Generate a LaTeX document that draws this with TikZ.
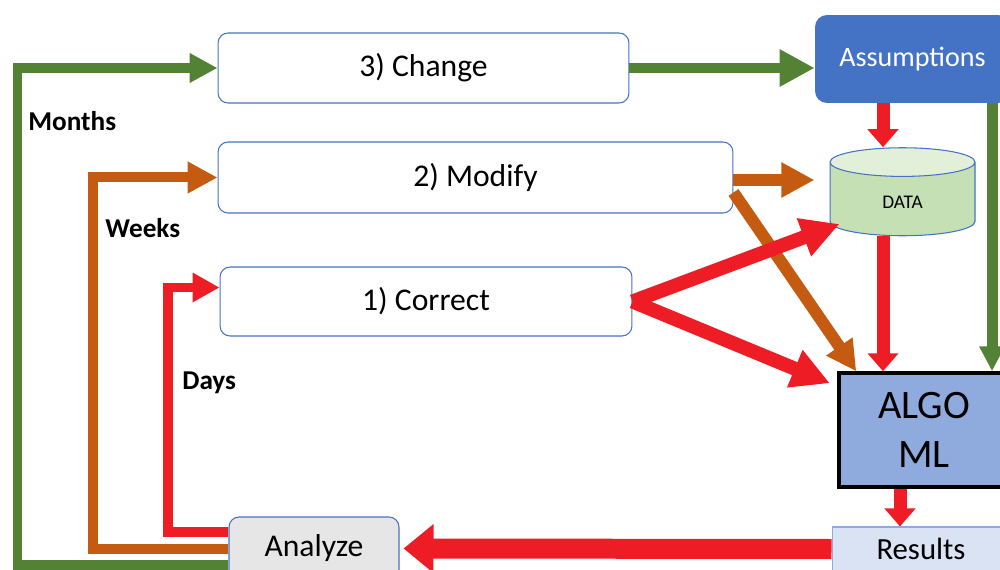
\documentclass[tikz,border=0pt]{standalone}
\usepackage{fontspec}
\setmainfont{Carlito}
\usepackage{tikz}
\usetikzlibrary{positioning}
\usetikzlibrary{arrows.meta, shapes.geometric}

\definecolor{verde}{HTML}{548235}
\definecolor{naranja}{HTML}{C55A11}
\definecolor{rojo}{HTML}{EE1C25}
\definecolor{borde}{HTML}{4472C4}
\definecolor{azul}{HTML}{4472C4}
\definecolor{azulclaro}{HTML}{8FAADC}
\definecolor{celeste}{HTML}{DAE3F3}
\definecolor{verdeclaro}{HTML}{C5E0B4}
\definecolor{verdetapa}{HTML}{E2F0D9}
\definecolor{gris}{HTML}{E7E6E6}

\begin{document}
\begin{tikzpicture}[x=0.02cm, y=-0.02cm,
		caja/.style={draw=borde, line width=0.6pt, rounded corners=0.2cm, font=\fontsize{18}{22}\selectfont},
		etiqueta/.style={anchor=west, inner sep=0pt, font=\fontsize{15.5}{18}\selectfont\bfseries},
		fverde/.style={draw=verde, line width=0.2cm, -{Triangle[length=0.56cm, width=0.56cm]}},
		fnaranja/.style={draw=naranja, line width=0.2cm, -{Triangle[length=0.6cm, width=0.6cm]}},
		frojo/.style={draw=rojo, line width=0.2cm, -{Triangle[length=0.54cm, width=0.56cm]}},
		fdiag/.style={draw=rojo, line width=0.28cm, -{Triangle[length=0.76cm, width=0.76cm]}},
		fbaja/.style={draw=rojo, line width=0.26cm, -{Triangle[length=0.36cm, width=0.6cm]}}
	]
			\path[use as bounding box, clip] (0,0) rectangle (1000,570);
			
			\node[caja, minimum width=8.22cm, minimum height=1.4cm] (change) at (423.5,68) {3) Change};
			\node[caja, minimum width=10.3cm, minimum height=1.42cm] (modify) at (475.5,177.5) {2) Modify};
			\node[caja, minimum width=8.24cm, minimum height=1.38cm] (correct) at (426,301.5) {1) Correct};
			\node[caja, fill=gris, minimum width=3.4cm, minimum height=1.26cm] (analyze) at (314,548.5) {Analyze};
			
			\node[fill=azul, text=white, rounded corners=0.24cm, minimum width=3.9cm, minimum height=1.76cm,
				font=\fontsize{16}{19}\selectfont] (assump) at (912.5,59) {Assumptions};
			\node[cylinder, shape border rotate=90, aspect=0.55, draw=borde, line width=0.6pt,
				cylinder uses custom fill, cylinder body fill=verdeclaro, cylinder end fill=verdetapa,
				minimum width=2.9cm, minimum height=1.76cm, font=\fontsize{11}{13}\selectfont] (data) at (902.5,202) {DATA};
			\node[draw=black, line width=2pt, fill=azulclaro, minimum width=3.4cm, minimum height=2.28cm,
				align=center, font=\fontsize{23}{28}\selectfont] (algo) at (924,430) {ALGO\\ML};
			\node[draw=azulclaro, line width=0.6pt, fill=celeste, minimum width=3.56cm, minimum height=0.88cm,
				font=\fontsize{17.5}{21}\selectfont] (results) at (921,549) {Results};
			
			\node[etiqueta] (months) at (28,121) {Months};
			\node[etiqueta] (weeks) at (105,228) {Weeks};
			\node[etiqueta] (days) at (182,383) {Days};
			
			% columnas de los lazos
			\coordinate (meses) at (17.5,400);
			\coordinate (semanas) at (93,400);
			\coordinate (dias) at (168,400);
			\coordinate (colA) at (883,0);
			\coordinate (colB) at (900,0);
			\coordinate (colC) at (992,0);
			
			\draw[fverde] ([yshift=-0.33cm]analyze.west) -| (meses) |- (change.west);       % lazo de meses
			\draw[fnaranja] (analyze.west) -| (semanas) |- (modify.west);                  % lazo de semanas
			\draw[frojo] ([yshift=0.33cm]analyze.west) -| (dias) |- ([yshift=0.28cm]correct.west); % lazo de dias
			
			\draw[fverde, line width=0.2cm, -{Triangle[length=0.7cm, width=0.7cm]}] (change.east) -- (change.east -| assump.west);
			\draw[fverde, line width=0.22cm, -{Triangle[length=0.5cm, width=0.48cm]}] (assump.south -| colC) -- (algo.north -| colC);
			
			\draw[fnaranja, line width=0.24cm, shorten >=0.3cm, -{Triangle[length=0.66cm, width=0.66cm]}]
				([yshift=-0.05cm]modify.east) -- ([yshift=-0.05cm]modify.east -| data.west);
			\draw[fnaranja, line width=0.24cm] ([yshift=-0.3cm]modify.east) -- ([xshift=0.38cm]algo.north west);
			
			\draw[fdiag] (correct.east) -- ([xshift=0.2cm, yshift=-0.44cm]data.west);
			\draw[fdiag, shorten >=0.16cm] (correct.east) -- ([yshift=-0.3cm]algo.north west);
			
			\draw[fbaja] (assump.south -| colA) -- (data.north -| colA);
			\draw[fbaja] (data.south -| colA) -- (algo.north -| colA);
			\draw[fbaja] (algo.south -| colB) -- (results.north -| colB);
			\draw[draw=rojo, line width=0.4cm, shorten >=0.08cm, -{Triangle[length=0.6cm, width=0.94cm]}] (results.west) -- (analyze.east);
		\end{tikzpicture}
\end{document}
